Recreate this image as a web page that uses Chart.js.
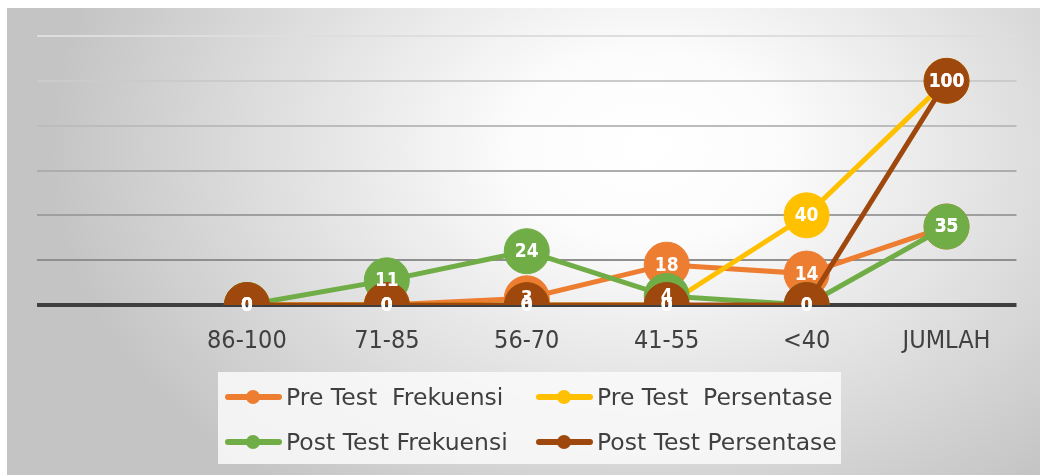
<!DOCTYPE html>
<html>
<head>
<meta charset="utf-8">
<script src="https://cdn.jsdelivr.net/npm/chart.js@4.4.1/dist/chart.umd.min.js"></script>
<style>
  html, body { margin: 0; padding: 0; background: #ffffff; width: 1040px; height: 475px; overflow: hidden; }
  #bg { position: absolute; left: 7px; top: 8px; width: 1033px; height: 467px;
        background: radial-gradient(ellipse 600px 430px at 640px 140px, #ffffff 0%, #fcfcfc 22%, #c4c4c4 100%); }
  #wrap { position: absolute; left: 0; top: 0; width: 1040px; height: 475px; }
  #legend { position: absolute; left: 218px; top: 372px; width: 623px; height: 92px; background: rgba(250,250,250,0.85); }
  .item { position: absolute; height: 30px; display: flex; align-items: center;
          font-family: 'DejaVu Sans', sans-serif; font-size: 23.5px; color: #404040; white-space: pre; }
  .sym { position: relative; width: 57px; height: 14px; margin-right: 4px; }
  .sym .ln { position: absolute; left: 0; top: 4px; width: 57px; height: 6px; border-radius: 3px; }
  .sym .dot { position: absolute; left: 21px; top: 0px; width: 14px; height: 14px; border-radius: 50%; }
</style>
</head>
<body>
<div id="bg"></div>
<div id="wrap"><canvas id="c" width="1040" height="475"></canvas></div>
<div id="legend"></div>
<script>
const categories = ['', '86-100', '71-85', '56-70', '41-55', '<40', 'JUMLAH'];
const seriesNames = ['Pre Test  Frekuensi', 'Pre Test  Persentase', 'Post Test Frekuensi', 'Post Test Persentase'];
const preFrekuensi   = [null, 0, 0, 3, 18, 14, 35];
const prePersentase  = [null, 0, 0, 0, 0, 40, 100];
const postFrekuensi  = [null, 0, 11, 24, 4, 0, 35];
const postPersentase = [null, 0, 0, 0, 0, 0, 100];
const yTicks = [0, 20, 40, 60, 80, 100, 120];
const colors = ['#ED7D31', '#FFC000', '#70AD47', '#9E480E'];

const seriesData = [preFrekuensi, prePersentase, postFrekuensi, postPersentase];
const gridColors = ['#3f3f3f', '#8f8f8f', '#9f9f9f', '#adadad', '#bcbcbc', '#cbcbcb', '#dedede'];

const datasets = seriesData.map((d, i) => ({
  label: seriesNames[i],
  data: d,
  borderColor: colors[i],
  backgroundColor: colors[i],
  pointBackgroundColor: colors[i],
  pointBorderColor: colors[i],
  borderWidth: 5,
  pointRadius: 22.5,
  pointHoverRadius: 22.5,
  pointBorderWidth: 1,
  tension: 0,
  order: 4 - i
}));

const labelPlugin = {
  id: 'valueLabels',
  afterDatasetsDraw(chart) {
    const ctx = chart.ctx;
    ctx.save();
    ctx.font = 'bold 19px "DejaVu Sans Condensed", "DejaVu Sans", sans-serif';
    ctx.fillStyle = '#ffffff';
    ctx.textAlign = 'center';
    ctx.textBaseline = 'middle';
    chart.data.datasets.forEach((ds, i) => {
      const meta = chart.getDatasetMeta(i);
      meta.data.forEach((pt, j) => {
        const v = ds.data[j];
        if (v === null || v === undefined) return;
        ctx.fillText(String(v), pt.x, pt.y + 1);
      });
    });
    ctx.restore();
  }
};

new Chart(document.getElementById('c'), {
  type: 'line',
  data: { labels: categories, datasets },
  options: {
    responsive: false,
    animation: false,
    events: [],
    layout: { padding: { left: 37, right: 20, top: 36, bottom: 98 } },
    plugins: { legend: { display: false }, tooltip: { enabled: false } },
    scales: {
      x: {
        offset: true,
        grid: { display: false, drawTicks: false },
        border: { display: false },
        ticks: { color: '#404040', padding: 21, maxRotation: 0, autoSkip: false,
                 font: { family: "'DejaVu Sans Condensed', 'DejaVu Sans', sans-serif", size: 25 } }
      },
      y: {
        min: 0, max: 120,
        afterBuildTicks(scale) { scale.ticks = yTicks.map(v => ({ value: v })); },
        ticks: { display: false },
        border: { display: false },
        grid: {
          drawTicks: false,
          color: c => gridColors[yTicks.indexOf(c.tick.value)] || '#cccccc',
          lineWidth: c => c.tick.value === 0 ? 4 : 2
        }
      }
    }
  },
  plugins: [labelPlugin]
});

// HTML legend built from the series names and colours
const legendPos = [[7, 10], [318, 10], [7, 55], [318, 55]];
const legend = document.getElementById('legend');
seriesNames.forEach((name, i) => {
  const it = document.createElement('div');
  it.className = 'item';
  it.style.left = legendPos[i][0] + 'px';
  it.style.top = legendPos[i][1] + 'px';
  it.innerHTML = '<div class="sym"><div class="ln" style="background:' + colors[i] + '"></div><div class="dot" style="background:' + colors[i] + '"></div></div>';
  const t = document.createElement('span');
  t.textContent = name;
  it.appendChild(t);
  legend.appendChild(it);
});
</script>
</body>
</html>
